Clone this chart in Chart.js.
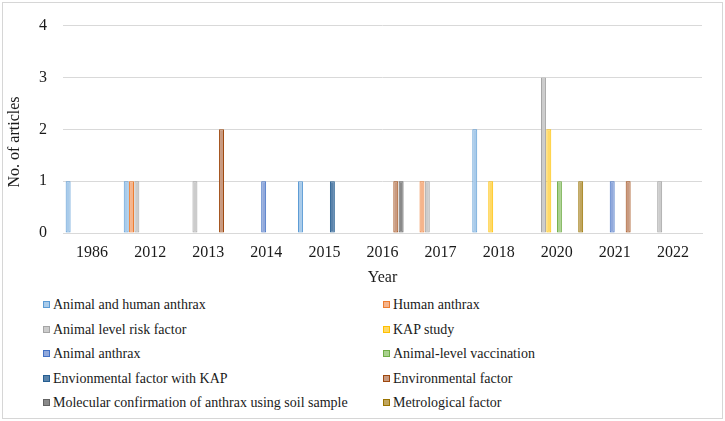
<!DOCTYPE html>
<html>
<head>
<meta charset="utf-8">
<script src="https://cdn.jsdelivr.net/npm/chart.js@4.4.0/dist/chart.umd.min.js"></script>
<style>
  body { margin: 0; background: #fff; }
  #wrap { position: relative; width: 725px; height: 421px; overflow: hidden; }
  #frame { position: absolute; left: 2px; top: 2px; width: 721px; height: 417px; border: 1px solid #d6d6d6; box-sizing: border-box; }
  #chartBox { position: absolute; left: 0; top: 0; }
  .item { position: absolute; height: 20px; line-height: 20px; font: 14px "Liberation Serif", "Times New Roman", serif; color: #1a1a1a; white-space: nowrap; }
  .box { display: inline-block; width: 5px; height: 5px; border: 1px solid; margin-right: 3px; vertical-align: 1px; }
</style>
</head>
<body>
<div id="wrap">
  <div id="frame"></div>
  <canvas id="chartBox" width="725" height="290"></canvas>
  <div id="legend"></div>
</div>
<script>
// categories (years)
let years = ['1986', '2012', '2013', '2014', '2015', '2016', '2017', '2018', '2020', '2021', '2022'];

// series, no. of articles per year
let animalHuman   = [1, 1, 0, 0, 1, 0, 0, 2, 0, 0, 0];
let human         = [0, 1, 0, 0, 0, 0, 1, 0, 0, 0, 0];
let animalRisk    = [0, 1, 1, 0, 0, 0, 1, 0, 3, 0, 1];
let kap           = [0, 0, 0, 0, 0, 0, 0, 1, 2, 0, 0];
let animal        = [0, 0, 0, 1, 0, 0, 0, 0, 0, 1, 0];
let vaccination   = [0, 0, 0, 0, 0, 0, 0, 0, 1, 0, 0];
let envKap        = [0, 0, 0, 0, 1, 0, 0, 0, 0, 0, 0];
let environmental = [0, 0, 2, 0, 0, 1, 0, 0, 0, 1, 0];
let molecular     = [0, 0, 0, 0, 0, 1, 0, 0, 0, 0, 0];
let metrological  = [0, 0, 0, 0, 0, 0, 0, 0, 1, 0, 0];

let seriesNames = [
  'Animal and human anthrax', 'Human anthrax', 'Animal level risk factor', 'KAP study',
  'Animal anthrax', 'Animal-level vaccination', 'Envionmental factor with KAP',
  'Environmental factor', 'Molecular confirmation of anthrax using soil sample', 'Metrological factor'
];
let seriesValues = [animalHuman, human, animalRisk, kap, animal, vaccination, envKap, environmental, molecular, metrological];

let yTicks = [0, 1, 2, 3, 4];

let fills   = ['#a9cbea', '#f5b48c', '#cccccc', '#ffd966', '#91a9dc', '#a9d18e', '#5a83ab', '#c99a80', '#8a8a8a', '#c0a55e'];
let borders = ['#5b9bd5', '#ed7d31', '#a5a5a5', '#ffc000', '#4472c4', '#70ad47', '#255e91', '#9e480e', '#636363', '#997300'];

let txt = '#1a1a1a';
let serif = '"Liberation Serif", "Times New Roman", serif';

let datasets = seriesNames.map((name, i) => ({
  label: name,
  data: seriesValues[i],
  backgroundColor: fills[i],
  borderColor: borders[i],
  borderWidth: 1,
  borderSkipped: false,
  categoryPercentage: 0.915,
  barPercentage: 0.93
}));

// y axis title, drawn a bit below the plot centre like the original
let yTitle = {
  id: 'yTitle',
  afterDraw: (chart) => {
    let c = chart.ctx;
    c.save();
    c.translate(15, 142);
    c.rotate(-Math.PI / 2);
    c.font = '16px ' + serif;
    c.fillStyle = txt;
    c.textAlign = 'center';
    c.textBaseline = 'middle';
    c.fillText('No. of articles', 0, 0);
    c.restore();
  }
};

let ctx = document.getElementById('chartBox');
let myChart = new Chart(ctx, {
  type: 'bar',
  data: { labels: years, datasets: datasets },
  options: {
    responsive: false,
    animation: false,
    layout: { padding: { left: 3, right: 23, top: 18, bottom: 0 } },
    plugins: { legend: { display: false }, tooltip: { enabled: false } },
    scales: {
      x: {
        grid: { display: false, drawTicks: false },
        border: { display: true, color: '#d9d9d9' },
        ticks: { font: { family: serif, size: 16 }, color: txt, padding: 10, maxRotation: 0, autoSkip: false },
        title: { display: true, text: 'Year', font: { family: serif, size: 16 }, color: txt, padding: { top: 0, bottom: 3 } },
        afterFit: (s) => { s.height = 57; }
      },
      y: {
        min: 0,
        max: 4,
        afterBuildTicks: (s) => { s.ticks = yTicks.map(v => ({ value: v })); },
        grid: { color: '#d9d9d9', drawTicks: false },
        border: { display: false },
        ticks: { font: { family: serif, size: 16 }, color: txt, padding: 16 },
        afterFit: (s) => { s.width = 60; }
      }
    }
  },
  plugins: [yTitle]
});

// two column legend under the chart
let rowY = [307, 331.5, 356, 380.5, 405];
let colX = [43, 383];
let legend = document.getElementById('legend');
myChart.data.datasets.forEach((ds, i) => {
  let el = document.createElement('div');
  el.className = 'item';
  el.style.left = colX[i % 2] + 'px';
  el.style.top = (rowY[Math.floor(i / 2)] - 10) + 'px';
  el.innerHTML = '<span class="box" style="background:' + ds.backgroundColor + ';border-color:' + ds.borderColor + '"></span>' + ds.label;
  legend.appendChild(el);
});
</script>
</body>
</html>
